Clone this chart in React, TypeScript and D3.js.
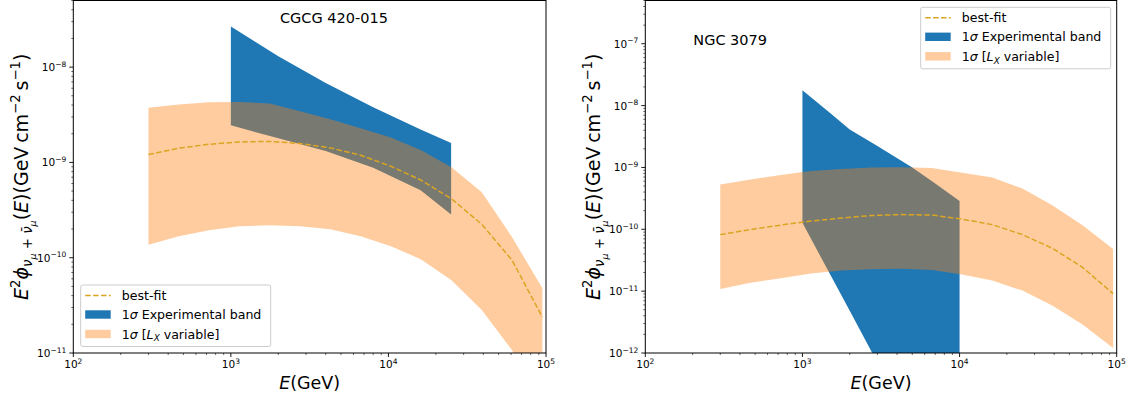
import React from 'react';
import * as d3 from 'd3';

// energy grid (GeV) the L_X bands and best-fit curves are sampled on
const E_GRID = [300, 467, 728, 1133, 1764, 2747, 4277, 6659, 10370, 16140, 25130, 39130, 60930, 94870];

// CGCG 420-015
const CGCG_BEST = [1.21e-9, 1.41e-9, 1.55e-9, 1.64e-9, 1.66e-9, 1.58e-9, 1.42e-9, 1.19e-9, 9.1e-10, 6.5e-10, 4.15e-10, 2.24e-10, 9.4e-11, 2.38e-11];
const CGCG_LX_UP = [3.75e-9, 4.06e-9, 4.27e-9, 4.3e-9, 4.16e-9, 3.44e-9, 2.83e-9, 2.28e-9, 1.83e-9, 1.34e-9, 8.9e-10, 4.86e-10, 1.64e-10, 4.79e-11];
const CGCG_LX_LO = [1.37e-10, 1.68e-10, 1.94e-10, 2.14e-10, 2.19e-10, 2.14e-10, 1.99e-10, 1.68e-10, 1.32e-10, 9.6e-11, 5.8e-11, 2.82e-11, 1.07e-11, 2.5e-12];
const CGCG_EXP_E = [1000, 2000, 4000, 8000, 16000, 25000];
const CGCG_EXP_UP = [2.67e-8, 1.3e-8, 6.8e-9, 3.79e-9, 2.22e-9, 1.6e-9];
const CGCG_EXP_LO = [2.45e-9, 1.79e-9, 1.32e-9, 8.8e-10, 5.1e-10, 2.84e-10];

// NGC 3079
const NGC_BEST = [8.2e-11, 9.9e-11, 1.17e-10, 1.36e-10, 1.52e-10, 1.67e-10, 1.73e-10, 1.7e-10, 1.46e-10, 1.19e-10, 8.2e-11, 4.9e-11, 2.4e-11, 9.1e-12];
const NGC_LX_UP = [5.28e-10, 6.37e-10, 7.53e-10, 8.75e-10, 9.42e-10, 9.95e-10, 1.01e-9, 9.77e-10, 8.18e-10, 6.87e-10, 4.56e-10, 2.42e-10, 1.15e-10, 4.82e-11];
const NGC_LX_LO = [1.08e-11, 1.37e-11, 1.62e-11, 1.92e-11, 2.15e-11, 2.27e-11, 2.31e-11, 2.19e-11, 1.85e-11, 1.48e-11, 1.02e-11, 5.8e-12, 2.87e-12, 1.2e-12];
const NGC_EXP_E = [1000, 1500, 2000, 3000, 5000, 7000, 10000];
const NGC_EXP_UP = [1.77e-8, 7.6e-9, 4.1e-9, 2.22e-9, 1.0e-9, 5.5e-10, 2.86e-10];
const NGC_EXP_LO = [1.27e-10, 1.87e-11, 4.8e-12, 7.0e-13, 6.3e-14, 1.3e-14, 2.3e-15];

const X_DOMAIN = [1e2, 1e5];
const CGCG_Y_DOMAIN = [1e-11, 5e-8];
const NGC_Y_DOMAIN = [1e-12, 5e-7];

const LEGEND_LABELS = ['best-fit', '1σ Experimental band', '1σ [L_X variable]'];

const BLUE = '#1f77b4';
const ORANGE = '#ff7f0e';
const GOLD = '#daa520';
const FONT = 'DejaVu Sans';

type Seg = { t: string; it?: boolean; lvl?: number };

// poor man's mathtext: tspans shifted up/down
const MathText = ({ segs, fs, ...rest }: any) => {
  const shift = (l: number) => (l === 1 ? -0.42 * fs : l === -1 ? 0.22 * fs : l === -2 ? 0.4 * fs : 0);
  const size = (l: number) => (l === 0 ? fs : l === -2 ? 0.5 * fs : 0.7 * fs);
  let prev = 0;
  return (
    <text fontSize={fs} style={{ whiteSpace: 'pre' }} {...rest}>
      {segs.map((s: Seg, i: number) => {
        const l = s.lvl || 0;
        const cur = shift(l);
        const dy = cur - prev;
        prev = cur;
        return (
          <tspan key={i} dy={dy} fontSize={size(l)} fontStyle={s.it ? 'italic' : 'normal'}>
            {s.t}
          </tspan>
        );
      })}
    </text>
  );
};

const legendSegs = (label: string): Seg[] => {
  if (label === LEGEND_LABELS[1]) return [{ t: '1' }, { t: 'σ', it: true }, { t: ' Experimental band' }];
  if (label === LEGEND_LABELS[2])
    return [{ t: '1' }, { t: 'σ', it: true }, { t: ' [' }, { t: 'L', it: true }, { t: 'X', it: true, lvl: -1 }, { t: ' variable]' }];
  return [{ t: label }];
};

const yLabelSegs: Seg[] = [
  { t: 'E', it: true },
  { t: '2', lvl: 1 },
  { t: 'ϕ', it: true },
  { t: 'ν', it: true, lvl: -1 },
  { t: 'μ', it: true, lvl: -2 },
  { t: ' + ', lvl: -1 },
  { t: 'ν\u0304', it: true, lvl: -1 },
  { t: 'μ', it: true, lvl: -2 },
  { t: '(' },
  { t: 'E', it: true },
  { t: ')(GeV\u2009cm' },
  { t: '−2', lvl: 1 },
  { t: '\u2009s' },
  { t: '−1', lvl: 1 },
  { t: ')' },
];

const isMajor = (t: number) => Math.abs(Math.log10(t) - Math.round(Math.log10(t))) < 1e-6;
const sup = (t: number) => String(Math.round(Math.log10(t))).replace('-', '−');

const Panel = (p: any) => {
  const { x0, x1, y0, y1 } = p;
  const x = d3.scaleLog().domain(X_DOMAIN).range([x0, x1]);
  const y = d3.scaleLog().domain(p.yDomain).range([y1, y0]);
  const clipId = 'clip-' + p.id;

  const band = d3
    .area<number>()
    .x((_, i) => x(p.bandE[i]))
    .y0((_, i) => y(p.bandLo[i]))
    .y1((d) => y(d));
  const exp = d3
    .area<number>()
    .x((_, i) => x(p.expE[i]))
    .y0((_, i) => y(p.expLo[i]))
    .y1((d) => y(d));
  const best = d3
    .line<number>()
    .x((_, i) => x(p.bandE[i]))
    .y((d) => y(d));

  const xt = x.ticks();
  const yt = y.ticks();
  const lg = p.legend;
  const rowY = [10.5, 29.5, 49];

  return (
    <g fontFamily={FONT}>
      <defs>
        <clipPath id={clipId}>
          <rect x={x0} y={y0} width={x1 - x0} height={y1 - y0} />
        </clipPath>
      </defs>
      <g clipPath={`url(#${clipId})`}>
        <path d={exp(p.expUp) || ''} fill={BLUE} />
        <path d={band(p.bandUp) || ''} fill={ORANGE} fillOpacity={0.4} />
        <path d={best(p.best) || ''} fill="none" stroke={GOLD} strokeWidth={1.5} strokeDasharray="5.5,2.4" />
      </g>
      <rect x={x0} y={y0} width={x1 - x0} height={y1 - y0} fill="none" stroke="#000" strokeWidth={1} />

      {xt.map((t, i) => (
        <line key={'xt' + i} x1={x(t)} x2={x(t)} y1={y1} y2={y1 + (isMajor(t) ? 4 : 2)} stroke="#000" strokeWidth={isMajor(t) ? 0.9 : 0.6} />
      ))}
      {xt.filter(isMajor).map((t, i) => (
        <text key={'xl' + i} x={x(t)} y={y1 + 15} fontSize={10.5} textAnchor="middle">
          10
          <tspan fontSize={7.5} dy={-4.5}>{sup(t)}</tspan>
        </text>
      ))}
      {yt.map((t, i) => (
        <line key={'yt' + i} x1={x0 - (isMajor(t) ? 4 : 2)} x2={x0} y1={y(t)} y2={y(t)} stroke="#000" strokeWidth={isMajor(t) ? 0.9 : 0.6} />
      ))}
      {yt.filter(isMajor).map((t, i) => (
        <text key={'yl' + i} x={x0 - 7} y={y(t) + 4} fontSize={10.5} textAnchor="end">
          10
          <tspan fontSize={7.5} dy={-4.5}>{sup(t)}</tspan>
        </text>
      ))}

      <text x={p.titleX} y={p.titleY} fontSize={14.5}>{p.title}</text>

      <text x={(x0 + x1) / 2} y={389} fontSize={17.5} textAnchor="middle">
        <tspan fontStyle="italic">E</tspan>(GeV)
      </text>
      <MathText segs={yLabelSegs} fs={19} textAnchor="middle" transform={`translate(${p.yLabelX},${(y0 + y1) / 2}) rotate(-90)`} />

      <g>
        <rect x={lg[0]} y={lg[1]} width={190} height={61.5} rx={2} fill="#fff" fillOpacity={0.8} stroke="#cccccc" strokeWidth={1} />
        <line x1={lg[0] + 4.5} x2={lg[0] + 30} y1={lg[1] + rowY[0]} y2={lg[1] + rowY[0]} stroke={GOLD} strokeWidth={1.5} strokeDasharray="5.5,2.4" />
        <rect x={lg[0] + 4.5} y={lg[1] + rowY[1] - 4.2} width={25.5} height={8.4} fill={BLUE} />
        <rect x={lg[0] + 4.5} y={lg[1] + rowY[2] - 4.2} width={25.5} height={8.4} fill={ORANGE} fillOpacity={0.4} />
        {LEGEND_LABELS.map((lab, i) => (
          <MathText key={lab} segs={legendSegs(lab)} fs={12.6} x={lg[0] + 41} y={lg[1] + rowY[i] + 4.5} />
        ))}
      </g>
    </g>
  );
};

export default function App() {
  return (
    <svg width={1137} height={400} style={{ position: 'absolute', left: 0, top: 0, background: '#fff' }}>
      <Panel
        id="cgcg"
        x0={73.3}
        x1={546}
        y0={0.5}
        y1={353}
        yDomain={CGCG_Y_DOMAIN}
        bandE={E_GRID}
        bandUp={CGCG_LX_UP}
        bandLo={CGCG_LX_LO}
        best={CGCG_BEST}
        expE={CGCG_EXP_E}
        expUp={CGCG_EXP_UP}
        expLo={CGCG_EXP_LO}
        title="CGCG 420-015"
        titleX={280}
        titleY={23}
        yLabelX={28}
        legend={[80.7, 285]}
      />
      <Panel
        id="ngc"
        x0={645.3}
        x1={1116.7}
        y0={0.5}
        y1={353}
        yDomain={NGC_Y_DOMAIN}
        bandE={E_GRID}
        bandUp={NGC_LX_UP}
        bandLo={NGC_LX_LO}
        best={NGC_BEST}
        expE={NGC_EXP_E}
        expUp={NGC_EXP_UP}
        expLo={NGC_EXP_LO}
        title="NGC 3079"
        titleX={693.3}
        titleY={45}
        yLabelX={600}
        legend={[920.7, 7.3]}
      />
    </svg>
  );
}
